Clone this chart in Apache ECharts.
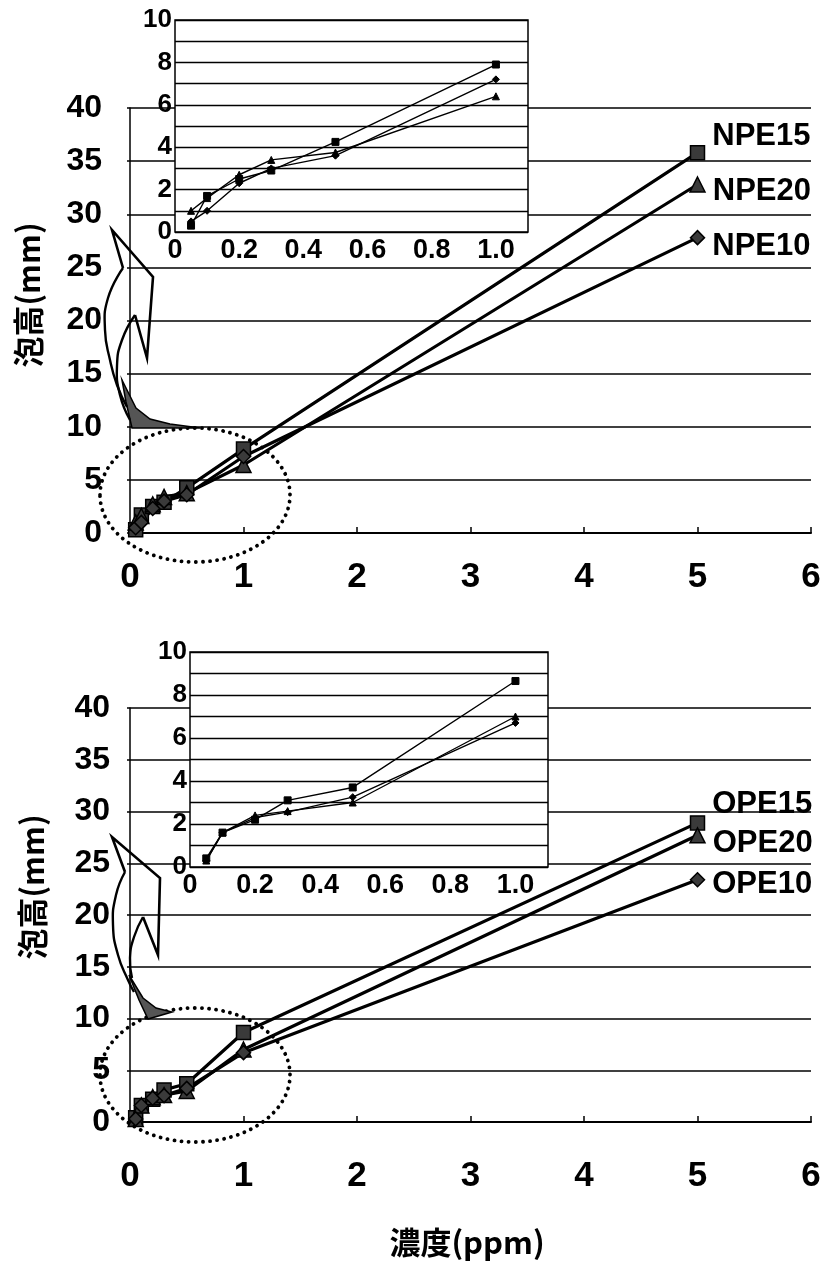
<!DOCTYPE html>
<html>
<head>
<meta charset="utf-8">
<script src="https://cdn.jsdelivr.net/npm/echarts@6/dist/echarts.min.js"></script>
<style>
  html, body { margin: 0; padding: 0; background: #fff; }
  #chart { width: 822px; height: 1269px; }
</style>
</head>
<body>
<div id="chart"></div>
<script>
// Concentrations (ppm) at which foam height was measured
const conc = [0.05, 0.1, 0.2, 0.3, 0.5, 1, 5];

// Foam height (mm), nonylphenol ethoxylates
const npe15 = [0.3, 1.7, 2.5, 2.9, 4.25, 7.9, 35.8];
const npe20 = [1.0, 1.6, 2.7, 3.4, 3.75, 6.4, 32.8];
const npe10 = [0.5, 1.0, 2.3, 3.0, 3.6, 7.2, 27.8];

// Foam height (mm), octylphenol ethoxylates
const ope15 = [0.4, 1.6, 2.2, 3.1, 3.7, 8.65, 28.9];
const ope20 = [0.3, 1.6, 2.4, 2.6, 3.0, 7.0, 27.7];
const ope10 = [0.3, 1.6, 2.3, 2.55, 3.25, 6.7, 23.4];

// Tick labels
const mainXTicks = [0, 1, 2, 3, 4, 5, 6];
const mainYTicks = [0, 5, 10, 15, 20, 25, 30, 35, 40];
const insetXTicks = [0, 0.2, 0.4, 0.6, 0.8, 1.0];
const insetYTicks = [0, 2, 4, 6, 8, 10];

const yTitle = '泡高(mm)';
const xTitle = '濃度(ppm)';

const LATIN = '"Liberation Sans", Arial, sans-serif';
const CJK = '"Noto Sans CJK JP", "Noto Sans", sans-serif';

const chart = echarts.init(document.getElementById('chart'), null, { renderer: 'canvas' });

// grid 0: top main, 1: top inset, 2: bottom main, 3: bottom inset
const grids = [
  { left: 130, top: 108, width: 681, height: 425 },
  { left: 175, top: 20, width: 353, height: 212, show: true, backgroundColor: '#fff',
    borderColor: '#000', borderWidth: 1.5, z: 10 },
  { left: 130, top: 708, width: 681, height: 414 },
  { left: 190, top: 652, width: 358, height: 215, show: true, backgroundColor: '#fff',
    borderColor: '#000', borderWidth: 1.5, z: 10 }
].map(g => Object.assign({ outerBoundsMode: 'none', containLabel: false }, g));

function mainX(gridIndex, margin) {
  return {
    type: 'value', gridIndex,
    min: mainXTicks[0], max: mainXTicks[mainXTicks.length - 1],
    interval: mainXTicks[1] - mainXTicks[0],
    axisLine: { show: true, lineStyle: { color: '#000', width: 2 } },
    axisTick: { show: true, inside: true, length: 6, lineStyle: { color: '#000', width: 1.5 } },
    splitLine: { show: false },
    axisLabel: { color: '#000', fontSize: 35, fontWeight: 'bold', fontFamily: LATIN, margin }
  };
}
function mainY(gridIndex, margin) {
  return {
    type: 'value', gridIndex,
    min: mainYTicks[0], max: mainYTicks[mainYTicks.length - 1],
    interval: mainYTicks[1] - mainYTicks[0],
    axisLine: { show: true, lineStyle: { color: '#000', width: 1.5 } },
    axisTick: { show: true, length: 3, lineStyle: { color: '#000', width: 1.5 } },
    splitLine: { show: true, lineStyle: { color: '#000', width: 1.6 } },
    axisLabel: { color: '#000', fontSize: 32, fontWeight: 'bold', fontFamily: LATIN, margin }
  };
}
function insetX(gridIndex) {
  return {
    type: 'value', gridIndex, z: 11,
    min: 0, max: 1.1, interval: insetXTicks[1] - insetXTicks[0],
    axisLine: { show: false }, axisTick: { show: false },
    splitLine: { show: false },
    axisLabel: {
      color: '#000', fontSize: 27, fontWeight: 'bold', fontFamily: LATIN, margin: 5, showMaxLabel: false,
      formatter: v => {
        const t = insetXTicks.find(k => Math.abs(k - v) < 1e-6);
        if (t === undefined) return '';
        return t === 0 ? '0' : t.toFixed(1);
      }
    }
  };
}
function insetY(gridIndex) {
  return {
    type: 'value', gridIndex, z: 11,
    min: insetYTicks[0], max: insetYTicks[insetYTicks.length - 1], interval: 1,
    axisLine: { show: false }, axisTick: { show: false },
    splitLine: { show: true, lineStyle: { color: '#000', width: 1.4 } },
    axisLabel: {
      color: '#000', fontSize: 26, fontWeight: 'bold', fontFamily: LATIN, margin: 3,
      formatter: v => (insetYTicks.indexOf(v) >= 0 ? String(v) : '')
    }
  };
}

const symbols = { '15': 'rect', '20': 'triangle', '10': 'diamond' };

function mainSeries(name, values, axisIdx, labelDy) {
  const key = name.slice(-2);
  const data = conc.map((x, i) => [x, values[i]]);
  const last = data.length - 1;
  data[last] = {
    value: data[last],
    label: {
      show: true, formatter: name, position: 'right', distance: 6, offset: [1, labelDy],
      color: '#000', fontSize: 31, fontWeight: 'bold', fontFamily: LATIN
    }
  };
  return {
    type: 'line', name, xAxisIndex: axisIdx, yAxisIndex: axisIdx, data,
    symbol: symbols[key], symbolSize: key === '20' ? 15 : 14, showAllSymbol: true,
    lineStyle: { color: '#000', width: 3.2 },
    itemStyle: { color: '#3a3a3a', borderColor: '#000', borderWidth: 1.5 },
    z: 3, animation: false
  };
}
function insetSeries(name, values, axisIdx) {
  const key = name.slice(-2);
  return {
    type: 'line', name, xAxisIndex: axisIdx, yAxisIndex: axisIdx,
    data: conc.filter(x => x <= 1).map((x, i) => [x, values[i]]),
    symbol: symbols[key], symbolSize: 7, showAllSymbol: true,
    lineStyle: { color: '#000', width: 1.4 },
    itemStyle: { color: '#000', borderColor: '#000', borderWidth: 1 },
    z: 12, animation: false
  };
}

// Dotted ring around the low-concentration cluster and the bent arrow pointing to the inset
function callout(cy, arrow) {
  const common = { z: 20, silent: true };
  return [
    Object.assign({
      type: 'ellipse', shape: { cx: 195, cy, rx: 95, ry: 67 },
      style: { fill: null, stroke: '#000', lineWidth: 3.8, lineDash: [0.1, 7], lineCap: 'round' }
    }, common),
    Object.assign({
      type: 'polygon', shape: { points: arrow.wedge },
      style: { fill: '#555', stroke: '#000', lineWidth: 1.5 }
    }, common),
    Object.assign({
      type: 'polyline', shape: { points: arrow.outer, smooth: 0.5 },
      style: { stroke: '#000', lineWidth: 2.4, fill: null }
    }, common),
    Object.assign({
      type: 'polyline', shape: { points: arrow.inner, smooth: 0.5 },
      style: { stroke: '#000', lineWidth: 2.4, fill: null }
    }, common),
    Object.assign({
      type: 'polyline', shape: { points: arrow.head },
      style: { stroke: '#000', lineWidth: 2.6, fill: null, lineJoin: 'miter' }
    }, common)
  ];
}

const topArrow = {
  outer: [[123, 268], [108, 298], [105, 330], [110, 360], [117, 385], [127, 407]],
  inner: [[135, 315], [122, 340], [117, 366], [120, 395], [130, 420]],
  head: [[123, 268], [112, 230], [153, 277], [147, 358], [135, 315]],
  wedge: [[122, 380], [126, 402], [132, 428], [200, 428], [170, 424], [150, 419], [136, 408]]
};
const bottomArrow = {
  outer: [[125, 872], [116, 895], [113, 925], [118, 955], [128, 980], [134, 992]],
  inner: [[143, 917], [134, 937], [130, 958], [132, 978]],
  head: [[125, 872], [112, 837], [160, 878], [158, 955], [143, 917]],
  wedge: [[129, 975], [139, 1000], [148, 1019], [172, 1012], [156, 1008], [143, 998]]
};

function title(text, x, y, rotation) {
  return {
    type: 'text', x, y, rotation, z: 20, silent: true,
    style: { text, fill: '#000', font: 'bold 31px ' + CJK, align: 'center', verticalAlign: 'middle' }
  };
}

const option = {
  backgroundColor: '#fff',
  animation: false,
  grid: grids,
  xAxis: [mainX(0, 27), insetX(1), mainX(2, 37), insetX(3)],
  yAxis: [mainY(0, 28), insetY(1), mainY(2, 20), insetY(3)],
  series: [
    mainSeries('NPE15', npe15, 0, -16),
    mainSeries('NPE20', npe20, 0, 7),
    mainSeries('NPE10', npe10, 0, 9),
    insetSeries('NPE15', npe15, 1),
    insetSeries('NPE20', npe20, 1),
    insetSeries('NPE10', npe10, 1),
    mainSeries('OPE15', ope15, 2, -18),
    mainSeries('OPE20', ope20, 2, 8),
    mainSeries('OPE10', ope10, 2, 5),
    insetSeries('OPE15', ope15, 3),
    insetSeries('OPE20', ope20, 3),
    insetSeries('OPE10', ope10, 3)
  ],
  graphic: [
    ...callout(495, topArrow),
    ...callout(1075, bottomArrow),
    title(yTitle, 28, 295, Math.PI / 2),
    title(yTitle, 32, 887, Math.PI / 2),
    title(xTitle, 467, 1242, 0)
  ]
};

chart.setOption(option);
</script>
</body>
</html>
